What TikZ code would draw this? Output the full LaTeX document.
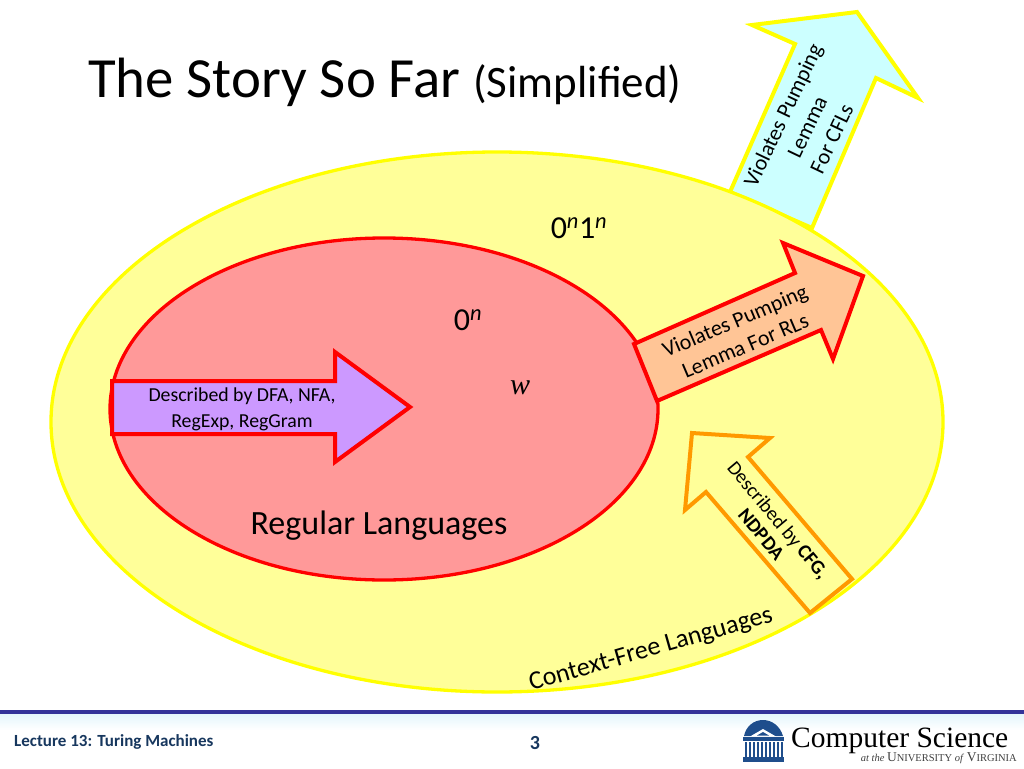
\documentclass[tikz,border=0pt]{standalone}
\usepackage{fontspec}
\setmainfont{Carlito}
\newfontfamily\seriffont{Liberation Serif}
\usetikzlibrary{shadings}
\definecolor{outerfill}{HTML}{FFFF99}
\definecolor{outerline}{HTML}{FFFF00}
\definecolor{innerfill}{HTML}{FF9999}
\definecolor{redline}{HTML}{FF0000}
\definecolor{purplefill}{HTML}{CC99FF}
\definecolor{peachfill}{HTML}{FFC596}
\definecolor{cyanfill}{HTML}{CCFFFF}
\definecolor{orangeline}{HTML}{FF9900}
\definecolor{barblue}{HTML}{333399}
\definecolor{glow}{HTML}{E4F6FC}
\definecolor{footnavy}{HTML}{17375E}
\definecolor{uvablue}{HTML}{1F4E8C}
\newcommand{\fs}[1]{\fontsize{#1}{#1}\selectfont}
\tikzset{
  setregion/.style={line width=3.3pt},
  arrowshape/.style={line width=4pt,line join=miter,miter limit=10},
  label/.style={align=center,text=black,inner sep=0pt},
  smalllabel/.style={label,font=\fs{19.8}},
  arrowlabel/.style={label,font=\fs{22}},
}
\begin{document}
\begin{tikzpicture}[x=1pt,y=-1pt]
\useasboundingbox (0,0) rectangle (1024,768);
\fill[white] (0,0) rectangle (1024,768);

% title
\node[label,anchor=base west] (title) at (88,97) {\fs{56.8}The Story So Far \fs{45}(Simplified)};

% cyan arrow lies behind the outer ellipse
\draw[arrowshape,fill=cyanfill,draw=outerline] (730,192) -- (795,44) -- (752,25) -- (857,12) -- (918,98) -- (876,78) -- (812,228) -- cycle;

% regions
\draw[setregion,fill=outerfill,draw=outerline] (497,422) ellipse [x radius=446pt,y radius=270pt];
\draw[setregion,fill=innerfill,draw=redline] (384,409) ellipse [x radius=274pt,y radius=171pt];

% arrows
\draw[arrowshape,fill=purplefill,draw=redline] (112,381) -- (335,381) -- (335,352) -- (410,407) -- (335,462) -- (335,434) -- (112,434) -- cycle;
\draw[arrowshape,fill=peachfill,draw=redline] (634,344) -- (795,273) -- (783,243) -- (863,276) -- (833,359) -- (821,330) -- (657,401) -- cycle;
\draw[arrowshape,fill=outerfill,draw=orangeline] (692,433) -- (770,438) -- (748,457) -- (852,579) -- (810,613) -- (706,492) -- (685,510) -- cycle;

% labels
\node[smalllabel] (dfa) at (242,409) {Described by DFA, NFA,\\[6pt]RegExp, RegGram};
\node[label] (reg) at (379,526) {\fs{34}Regular Languages};
\node[label,anchor=base] (zn) at (468,330) {\fs{32}0\textsuperscript{\itshape n}};
\node[label,anchor=base] (zo) at (579,238) {\fs{32}0\textsuperscript{\itshape n}1\textsuperscript{\itshape n}};
\node[label] (w) at (520,388) {\seriffont\itshape\fs{30}w};
\node[label,rotate=16] (cfl) at (651,650) {\fs{26}Context-Free Languages};
\node[arrowlabel,rotate=23] (rl) at (740,333) {Violates Pumping\\[5pt]Lemma For RLs};
\node[arrowlabel,rotate=64.5] (cf) at (807,127) {Violates Pumping\\[5pt]Lemma\\[5pt]For CFLs};
\node[smalllabel,rotate=-50] (desc) at (770,527) {Described by \textbf{CFG,}\\[2pt]\textbf{NDPDA}};

% footer
\shade[top color=glow,bottom color=white] (0,714) rectangle (1024,730);
\fill[barblue] (0,710) rectangle (1024,714);
\node[label,anchor=base west,text=footnavy] (lec) at (14,746) {\fs{17}\textbf{Lecture 13: Turing Machines}};
\node[label,text=footnavy] (num) at (535,743) {\fs{20}\textbf{3}};

% logo
\fill[uvablue] (744,736) .. controls (746,726) and (754,720) .. (763,720) .. controls (772,720) and (780,726) .. (783,736) -- cycle;
\fill[uvablue] (743,737) rectangle (784,741);
\fill[uvablue] (743,757) rectangle (784,762);
\foreach \cx in {745,749,...,781}{\fill[uvablue] (\cx,742) rectangle (\cx+2.2,757);}
\fill[white] (763,729) -- (750,736.5) -- (776,736.5) -- cycle;
\fill[uvablue] (763,732) -- (757,735.5) -- (769,735.5) -- cycle;
\node[label,anchor=base west] (cs) at (791,747) {\seriffont\fs{29.5}Computer Science};
\node[label,anchor=base east,text=black!75] (uva) at (1017,761) {\seriffont\fs{10.5}\textit{at the} \fs{13.5}U\fs{10.5}NIVERSITY \textit{of} \fs{13.5}V\fs{10.5}IRGINIA};
\end{tikzpicture}
\end{document}
